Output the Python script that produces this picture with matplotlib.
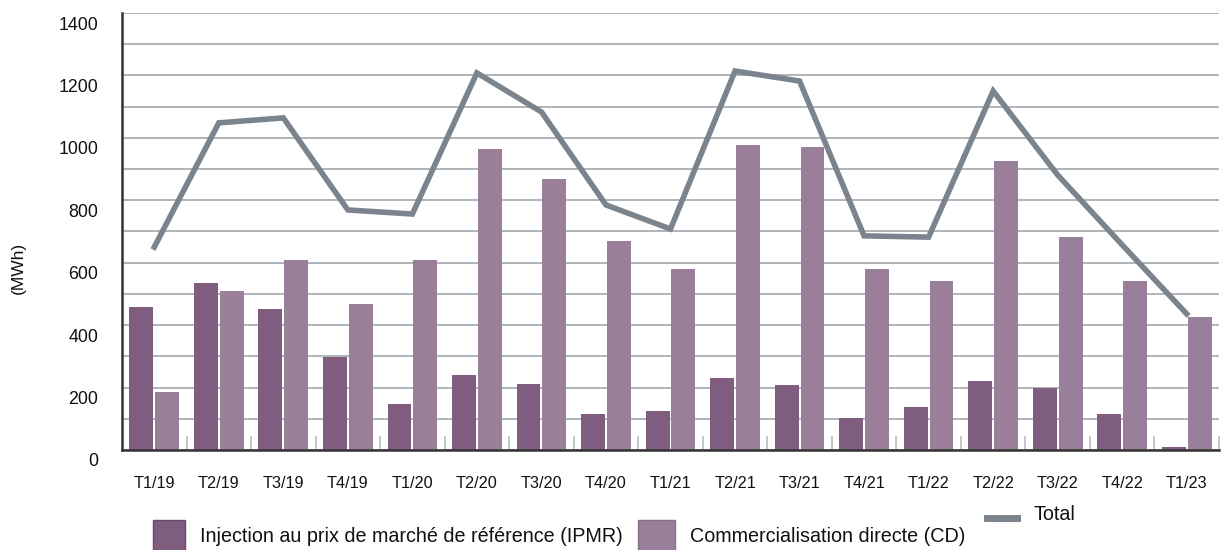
import matplotlib
matplotlib.use("Agg")
import matplotlib.pyplot as plt
import numpy as np
from matplotlib.patches import Rectangle
from matplotlib.lines import Line2D
from matplotlib.transforms import ScaledTranslation

plt.rcParams['font.family'] = ['Liberation Sans', 'DejaVu Sans']

categories = ["T1/19", "T2/19", "T3/19", "T4/19", "T1/20", "T2/20", "T3/20", "T4/20",
              "T1/21", "T2/21", "T3/21", "T4/21", "T1/22", "T2/22", "T3/22", "T4/22", "T1/23"]
ipmr = [458, 535, 452, 298, 147, 240, 211, 115, 125, 231, 208, 103, 138, 221, 199, 115, 10]
cd = [186, 509, 609, 468, 609, 964, 868, 670, 580, 977, 971, 580, 541, 926, 682, 541, 426]
total = [650, 1048, 1064, 769, 756, 1208, 1083, 785, 708, 1214, 1182, 686, 682, 1150, 881, 657, 436]
yticks = [0, 200, 400, 600, 800, 1000, 1200, 1400]

c_dark = "#7f5d7f"
c_light = "#9a7f9a"
c_line = "#7b848c"
c_grid = "#a3a7ab"

W, H = 1222, 550
fig = plt.figure(figsize=(W / 100, H / 100), dpi=100)
ax = fig.add_axes([122 / W, 1 - 450 / H, (1219 - 122) / W, (450 - 13) / H])

x = np.arange(len(categories))
bw = 0.37
ax.bar(x - 0.2, ipmr, bw, color=c_dark, zorder=2)
ax.bar(x + 0.2, cd, bw, color=c_light, zorder=2)
ax.plot(x, total, color=c_line, lw=4, zorder=3, solid_joinstyle='miter')

ax.set_xlim(-0.5, len(categories) - 0.5)
ax.set_ylim(0, 1400)
ax.set_yticks(yticks)
ax.set_yticks(np.arange(0, 1401, 100), minor=True)
ax.yaxis.grid(True, which='both', color=c_grid, lw=1.2, zorder=0)
ax.tick_params(axis='y', which='both', length=0, pad=17, labelsize=12.8, colors='#111111')
off = ScaledTranslation(0, -0.10, fig.dpi_scale_trans)
for lab in ax.get_yticklabels():
    lab.set_transform(lab.get_transform() + off)
ax.set_xticks(x)
ax.set_xticklabels(categories)
ax.set_xticks(np.arange(0.5, len(categories) - 0.5 + 0.01, 1), minor=True)
ax.tick_params(axis='x', which='major', length=0, pad=19, labelsize=11.7, colors='#111111')
ax.tick_params(axis='x', which='minor', direction='in', length=10, width=1.2, color='#b8bcc0')

for s in ['top', 'right']:
    ax.spines[s].set_visible(False)
ax.spines['left'].set_color('#333333')
ax.spines['left'].set_linewidth(1.8)
ax.spines['bottom'].set_color('#333333')
ax.spines['bottom'].set_linewidth(1.8)
ax.spines['left'].set_zorder(4)
ax.spines['bottom'].set_zorder(4)

fig.text(18 / W, 1 - 268 / H, "(MWh)", rotation=90, ha='center', va='center',
         fontsize=12.5, color='#111111')

# legend (manual layout)
def fx(px):
    return px / W

def fy(py):
    return 1 - py / H

fig.patches.append(Rectangle((fx(153), fy(553)), (185 - 153) / W, 33 / H, transform=fig.transFigure,
                             facecolor=c_dark, edgecolor="#6a4a6a", lw=1))
fig.text(fx(200), fy(537), "Injection au prix de marché de référence (IPMR)", ha='left', va='center',
         fontsize=14.2, color='#111111')
fig.patches.append(Rectangle((fx(638), fy(553)), (675 - 638) / W, 33 / H, transform=fig.transFigure,
                             facecolor=c_light, edgecolor="#8a6f8a", lw=1))
fig.text(fx(690), fy(537), "Commercialisation directe (CD)", ha='left', va='center',
         fontsize=14.2, color='#111111')
fig.lines.append(Line2D([fx(987), fx(1017)], [fy(518), fy(518)], transform=fig.transFigure,
                        color=c_line, lw=5))
fig.text(fx(1033), fy(515), "Total", ha='left', va='center', fontsize=14.2, color='#111111')

fig.savefig("out.png", dpi=100)
